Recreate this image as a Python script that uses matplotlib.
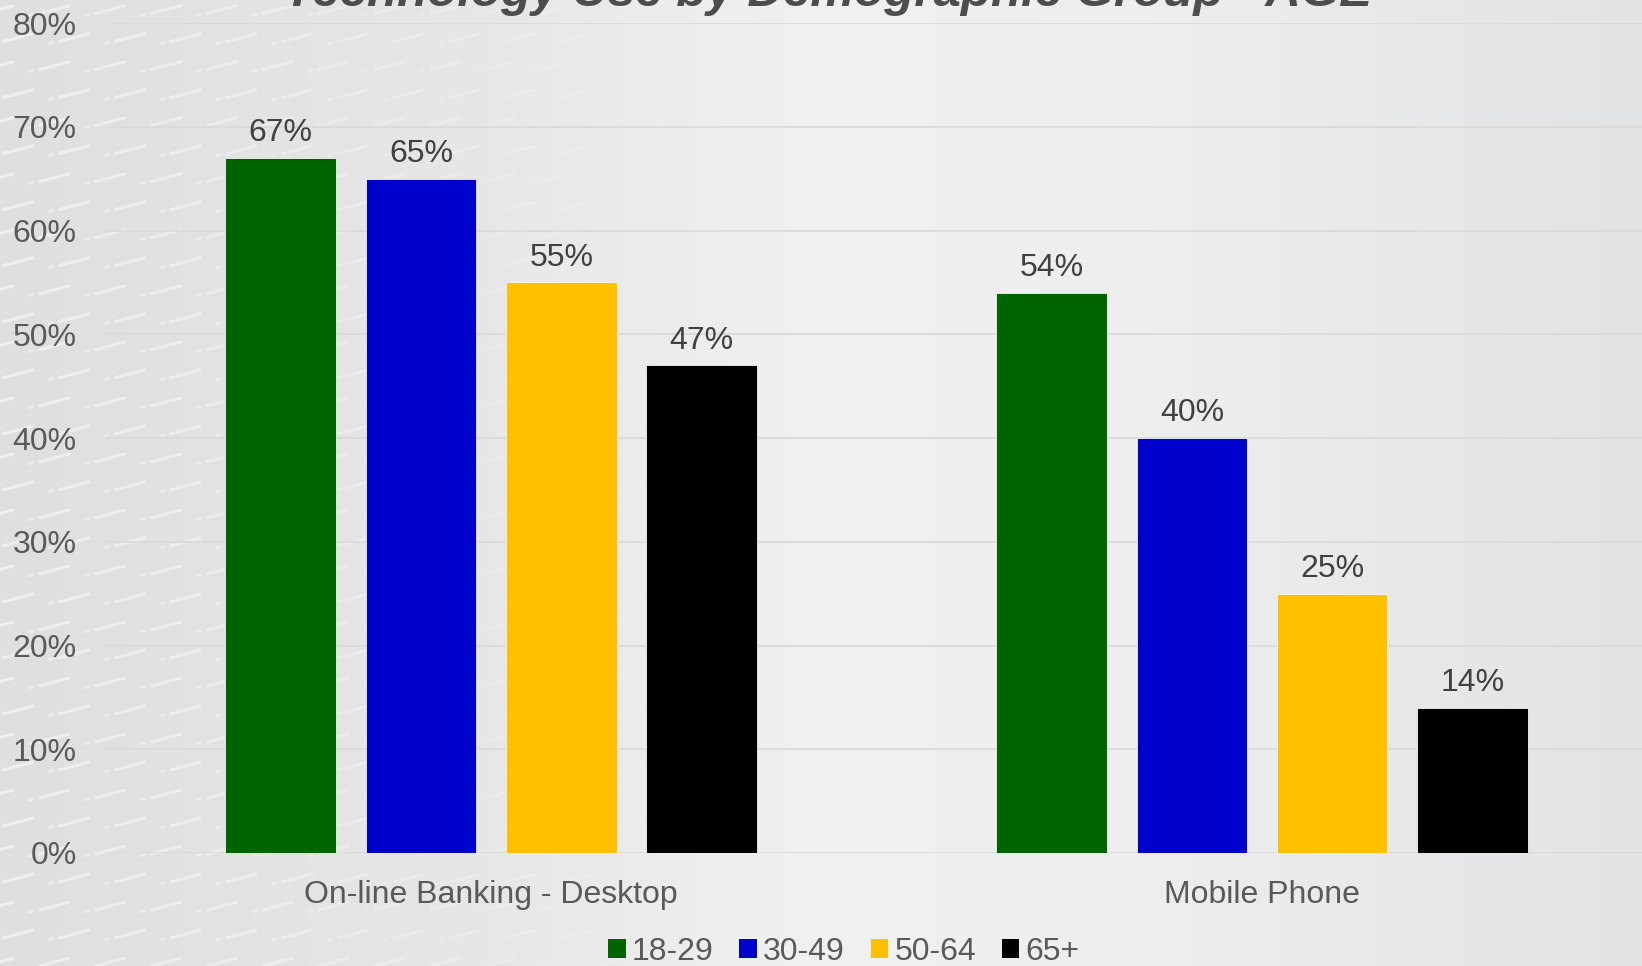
import matplotlib

matplotlib.use("Agg")
import matplotlib.pyplot as plt
import numpy as np
from matplotlib.colors import LinearSegmentedColormap
from matplotlib.patches import Patch
from matplotlib.ticker import MultipleLocator, PercentFormatter

plt.rcParams["font.family"] = ["Liberation Sans", "DejaVu Sans"]

TITLE = "Technology Use by Demographic Group - AGE"
categories = ["On-line Banking - Desktop", "Mobile Phone"]
age_groups = ["18-29", "30-49", "50-64", "65+"]
age_colors = ["#006400", "#0000CC", "#FFC000", "#000000"]

# percent of respondents, one list per age group (desktop, mobile)
share_18_29 = [67, 54]
share_30_49 = [65, 40]
share_50_64 = [55, 25]
share_65_plus = [47, 14]
series = [share_18_29, share_30_49, share_50_64, share_65_plus]

TEXT_GREY = "#595959"
LABEL_GREY = "#404040"
FONT_SIZE = 23

fig = plt.figure(figsize=(16.42, 9.66), dpi=100)

# soft grey backdrop: darker on the left, brightest around the middle
bg = fig.add_axes([0, 0, 1, 1], zorder=-10)
bg_cmap = LinearSegmentedColormap.from_list(
    "backdrop",
    [(0.0, "#dfdfdf"), (0.30, "#e7e7e7"), (0.50, "#f1f1f1"), (0.70, "#eeeeee"), (1.0, "#e2e3e5")],
)
grad = np.tile(np.linspace(0, 1, 512), (8, 1))
bg.imshow(grad, cmap=bg_cmap, aspect="auto", extent=[0, 1, 0, 1], vmin=0, vmax=1)

# faint streaks across the left part of the backdrop
for col_x in np.arange(-0.01, 0.46, 0.034):
    fade = max(0.0, 1.0 - col_x / 0.46)
    for row_y in np.arange(0.0, 1.0, 0.029):
        shift = 0.012 if int(round(row_y / 0.029)) % 2 else 0.0
        x0 = col_x + shift
        bg.plot([x0, x0 + 0.018], [row_y, row_y + 0.008], color="white",
                lw=2.2, alpha=0.5 * fade, solid_capstyle="round")
        bg.plot([x0 - 0.006, x0 - 0.004], [row_y - 0.002, row_y - 0.001], color="white",
                lw=2.2, alpha=0.4 * fade, solid_capstyle="round")
bg.set_xlim(0, 1)
bg.set_ylim(0, 1)
bg.axis("off")

ax = fig.add_axes([0.0644, 0.117, 0.9389, 0.859])
ax.set_facecolor("none")

x = np.arange(len(categories))
width = 0.1435
step = 0.182
offsets = (np.arange(len(age_groups)) - (len(age_groups) - 1) / 2) * step

for off, values, color in zip(offsets, series, age_colors):
    bars = ax.bar(x + off, values, width=width, color=color, edgecolor="#f4f4f4",
                  linewidth=0.6, zorder=3)
    for rect, v in zip(bars, values):
        ax.annotate(f"{v}%", (rect.get_x() + rect.get_width() / 2, v),
                    xytext=(0, 7), textcoords="offset points", ha="center", va="bottom",
                    fontsize=FONT_SIZE, color=LABEL_GREY)

ax.set_xlim(-0.5, 1.5)
ax.set_ylim(0, 80)
ax.yaxis.set_major_locator(MultipleLocator(10))
ax.yaxis.set_major_formatter(PercentFormatter(decimals=0))
ax.set_xticks(x, categories)
ax.tick_params(axis="both", length=0, labelsize=FONT_SIZE, labelcolor=TEXT_GREY)
ax.tick_params(axis="y", pad=21)
ax.tick_params(axis="x", pad=19.5)

ax.grid(axis="y", color="#d9d9d9", linewidth=1.2, zorder=0)
ax.set_axisbelow(True)
for spine in ax.spines.values():
    spine.set_visible(False)

handles = [Patch(facecolor=c, edgecolor="none") for c in age_colors]
fig.legend(handles, age_groups, loc="center", bbox_to_anchor=(0.514, 0.0145), ncol=4,
           frameon=False, fontsize=FONT_SIZE, labelcolor=TEXT_GREY, handlelength=0.55,
           handleheight=0.55, handletextpad=0.2, columnspacing=0.8, borderpad=0.2)

fig.text(0.504, 1 - 6 / 966, TITLE, ha="center", va="baseline", fontsize=35.5,
         fontweight="bold", fontstyle="italic", color="#4d4d4d")

fig.savefig("out.png", dpi=100)
